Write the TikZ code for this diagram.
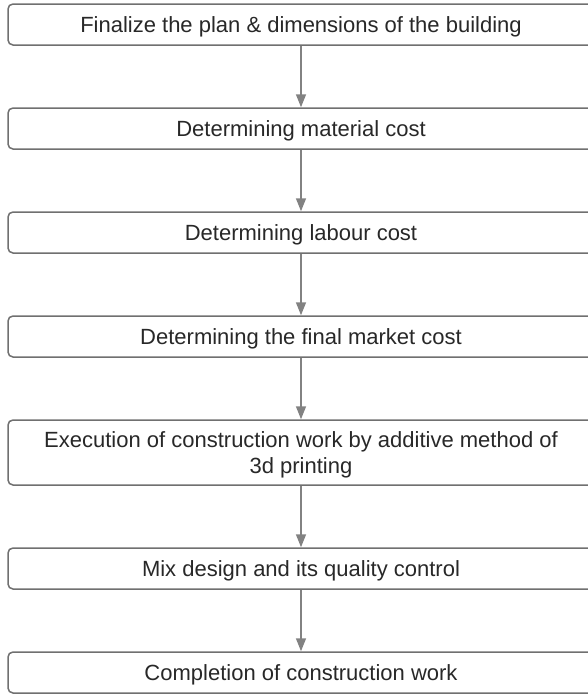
\documentclass[tikz,border=0pt]{standalone}
\usepackage{fontspec}
\setmainfont{Liberation Sans}
\usetikzlibrary{arrows.meta,positioning}
\definecolor{edgegray}{RGB}{112,112,112}
\definecolor{flowgray}{RGB}{130,130,130}
\definecolor{textgray}{RGB}{40,40,40}
\tikzset{
  stage/.style={rectangle,rounded corners=5pt,draw=edgegray,line width=1.5pt,fill=white,
                text=textgray,align=center,font=\fontsize{22}{26}\selectfont,
                minimum width=586pt,minimum height=41pt,inner sep=3pt,text depth=0pt},
  fl/.style={-{Triangle[length=13pt,width=10pt]},draw=flowgray,line width=1.5pt},
}

\begin{document}
\begin{tikzpicture}[x=1pt,y=1pt,node distance=61.5pt]
  \useasboundingbox (0,0) rectangle (588,-694);
  \clip (0,0) rectangle (588,-694);
  \node[stage] (plan) at (301,-24.5) {Finalize the plan \& dimensions of the building};
  \node[stage,below=of plan] (matcost) {Determining material cost};
  \node[stage,below=of matcost] (labcost) {Determining labour cost};
  \node[stage,below=of labcost] (mktcost) {Determining the final market cost};
  \node[stage,below=of mktcost,minimum height=65pt] (exec) {Execution of construction work by additive method of\\3d printing};
  \node[stage,below=of exec] (mix) {Mix design and its quality control};
  \node[stage,below=of mix] (done) {Completion of construction work};
  % downward flow
  \draw[fl] (plan) -- (matcost);
  \draw[fl] (matcost) -- (labcost);
  \draw[fl] (labcost) -- (mktcost);
  \draw[fl] (mktcost) -- (exec);
  \draw[fl] (exec) -- (mix);
  \draw[fl] (mix) -- (done);
\end{tikzpicture}
\end{document}
